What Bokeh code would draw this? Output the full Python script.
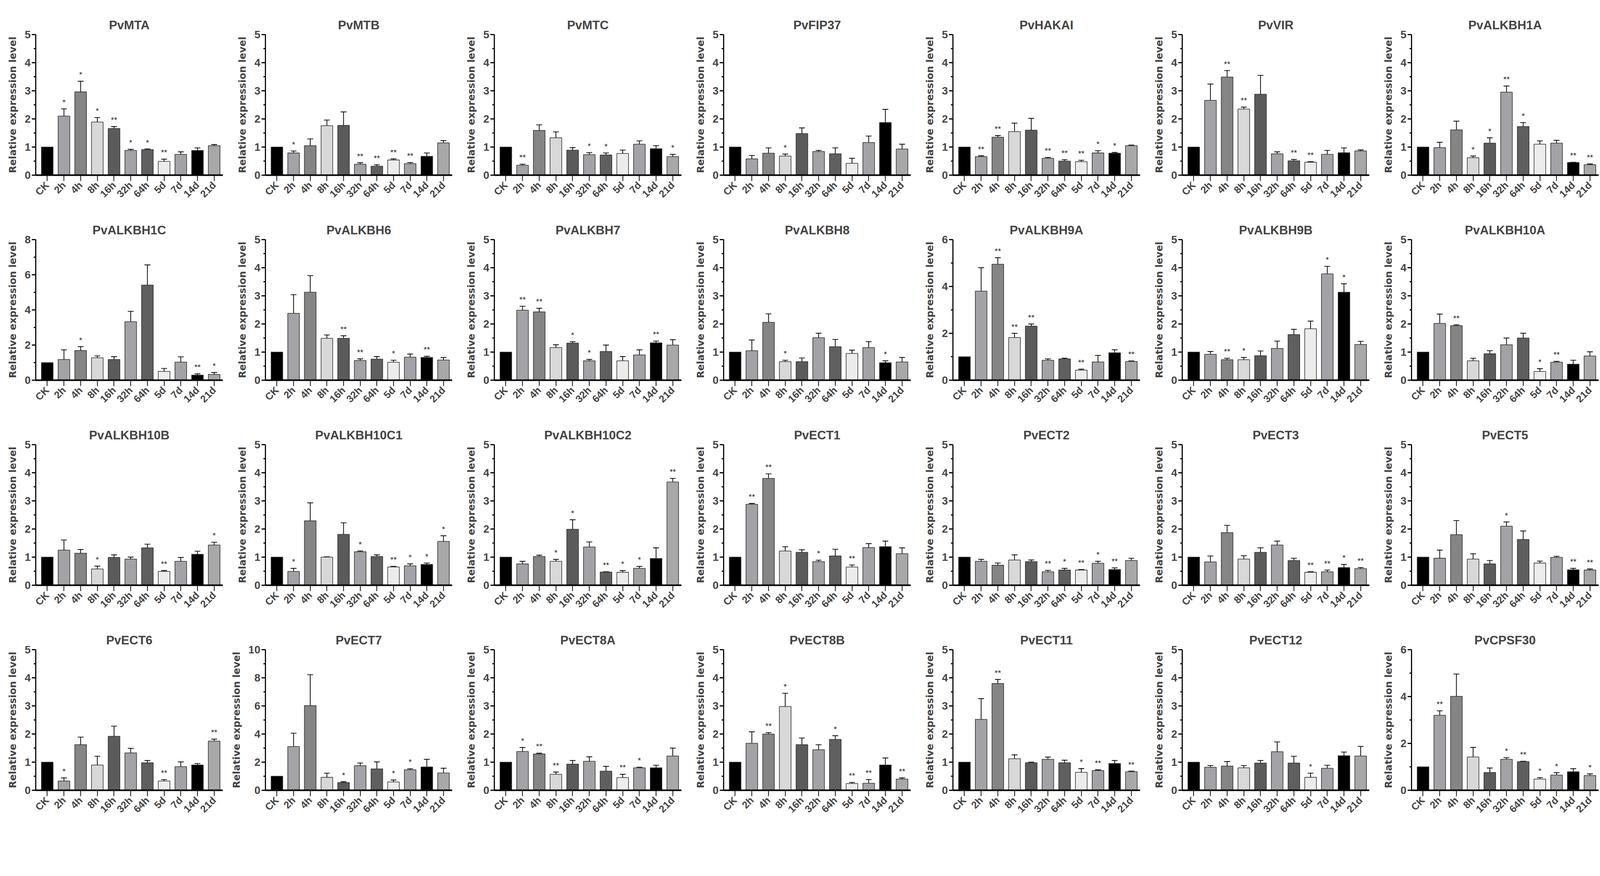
import math
from bokeh.plotting import figure
from bokeh.layouts import gridplot
from bokeh.models import ColumnDataSource, Whisker, TeeHead, FixedTicker, Range1d
from bokeh.core.properties import value
from bokeh.embed import file_html
from bokeh.resources import INLINE

times = ["CK", "2h", "4h", "8h", "16h", "32h", "64h", "5d", "7d", "14d", "21d"]
bar_colors = ["#000000", "#a2a2a7", "#858585", "#d8d8d8", "#5b5b5b", "#a2a2a7",
              "#5f5f5f", "#ececec", "#a2a2a7", "#000000", "#a8a8a8"]

genes = ["PvMTA", "PvMTB", "PvMTC", "PvFIP37", "PvHAKAI", "PvVIR", "PvALKBH1A",
         "PvALKBH1C", "PvALKBH6", "PvALKBH7", "PvALKBH8", "PvALKBH9A", "PvALKBH9B", "PvALKBH10A",
         "PvALKBH10B", "PvALKBH10C1", "PvALKBH10C2", "PvECT1", "PvECT2", "PvECT3", "PvECT5",
         "PvECT6", "PvECT7", "PvECT8A", "PvECT8B", "PvECT11", "PvECT12", "PvCPSF30"]
y_max = [5, 5, 5, 5, 5, 5, 5,
         8, 5, 5, 5, 6, 5, 5,
         5, 5, 5, 5, 5, 5, 5,
         5, 10, 5, 5, 5, 5, 6]

MTA_mean = [1.00, 2.10, 2.96, 1.89, 1.66, 0.88, 0.91, 0.49, 0.74, 0.88, 1.05]
MTA_err = [0, 0.26, 0.38, 0.16, 0.07, 0.04, 0.02, 0.08, 0.09, 0.09, 0.04]
MTA_sig = ["", "*", "*", "*", "**", "*", "*", "**", "", "", ""]

MTB_mean = [1.00, 0.79, 1.05, 1.76, 1.77, 0.39, 0.32, 0.54, 0.41, 0.67, 1.15]
MTB_err = [0, 0.07, 0.24, 0.20, 0.48, 0.05, 0.05, 0.04, 0.04, 0.12, 0.08]
MTB_sig = ["", "*", "", "", "", "**", "**", "**", "**", "", ""]

MTC_mean = [1.00, 0.35, 1.59, 1.33, 0.89, 0.73, 0.72, 0.77, 1.10, 0.94, 0.66]
MTC_err = [0, 0.04, 0.20, 0.21, 0.09, 0.07, 0.07, 0.12, 0.12, 0.11, 0.08]
MTC_sig = ["", "**", "", "", "", "*", "*", "", "", "", "*"]

FIP37_mean = [1.00, 0.58, 0.78, 0.68, 1.48, 0.84, 0.76, 0.42, 1.16, 1.87, 0.93]
FIP37_err = [0, 0.12, 0.19, 0.07, 0.20, 0.04, 0.21, 0.18, 0.23, 0.47, 0.17]
FIP37_sig = ["", "", "", "*", "", "", "", "", "", "", ""]

HAKAI_mean = [1.00, 0.66, 1.35, 1.55, 1.60, 0.60, 0.50, 0.48, 0.79, 0.78, 1.05]
HAKAI_err = [0, 0.03, 0.06, 0.30, 0.42, 0.03, 0.05, 0.05, 0.08, 0.03, 0.02]
HAKAI_sig = ["", "**", "**", "", "", "**", "**", "**", "*", "*", ""]

VIR_mean = [1.00, 2.66, 3.49, 2.35, 2.88, 0.76, 0.51, 0.46, 0.74, 0.80, 0.86]
VIR_err = [0, 0.58, 0.23, 0.07, 0.67, 0.07, 0.05, 0.02, 0.14, 0.17, 0.04]
VIR_sig = ["", "", "**", "**", "", "", "**", "**", "", "", ""]

ALKBH1A_mean = [1.00, 0.98, 1.61, 0.62, 1.14, 2.95, 1.73, 1.10, 1.14, 0.45, 0.37]
ALKBH1A_err = [0, 0.19, 0.31, 0.06, 0.19, 0.22, 0.14, 0.12, 0.10, 0.01, 0.03]
ALKBH1A_sig = ["", "", "", "*", "*", "**", "*", "", "", "**", "**"]

ALKBH1C_mean = [1.00, 1.18, 1.69, 1.27, 1.18, 3.33, 5.41, 0.50, 1.03, 0.29, 0.33]
ALKBH1C_err = [0, 0.55, 0.22, 0.11, 0.16, 0.59, 1.15, 0.17, 0.30, 0.07, 0.11]
ALKBH1C_sig = ["", "", "*", "", "", "", "", "", "", "**", "*"]

ALKBH6_mean = [1.00, 2.38, 3.13, 1.49, 1.49, 0.70, 0.75, 0.64, 0.82, 0.81, 0.72]
ALKBH6_err = [0, 0.66, 0.59, 0.12, 0.09, 0.06, 0.09, 0.07, 0.11, 0.04, 0.09]
ALKBH6_sig = ["", "", "", "", "**", "**", "", "*", "", "**", ""]

ALKBH7_mean = [1.00, 2.49, 2.43, 1.16, 1.32, 0.69, 1.02, 0.69, 0.90, 1.33, 1.25]
ALKBH7_err = [0, 0.14, 0.13, 0.10, 0.05, 0.05, 0.23, 0.15, 0.18, 0.06, 0.19]
ALKBH7_sig = ["", "**", "**", "", "*", "*", "", "", "", "**", ""]

ALKBH8_mean = [1.00, 1.05, 2.06, 0.66, 0.66, 1.51, 1.19, 0.95, 1.16, 0.62, 0.65]
ALKBH8_err = [0, 0.38, 0.30, 0.05, 0.13, 0.16, 0.26, 0.12, 0.21, 0.07, 0.16]
ALKBH8_sig = ["", "", "", "*", "", "", "", "", "", "*", ""]

ALKBH9A_mean = [1.00, 3.80, 4.95, 1.82, 2.31, 0.85, 0.91, 0.43, 0.78, 1.17, 0.80]
ALKBH9A_err = [0, 1.00, 0.28, 0.18, 0.09, 0.06, 0.03, 0.04, 0.28, 0.13, 0.02]
ALKBH9A_sig = ["", "", "**", "**", "**", "", "", "**", "", "", "**"]

ALKBH9B_mean = [1.00, 0.92, 0.73, 0.73, 0.87, 1.13, 1.62, 1.83, 3.78, 3.13, 1.27]
ALKBH9B_err = [0, 0.10, 0.05, 0.08, 0.17, 0.26, 0.19, 0.27, 0.27, 0.30, 0.11]
ALKBH9B_sig = ["", "", "**", "*", "", "", "", "", "*", "*", ""]

ALKBH10A_mean = [1.00, 2.02, 1.94, 0.69, 0.94, 1.26, 1.50, 0.31, 0.64, 0.57, 0.86]
ALKBH10A_err = [0, 0.33, 0.03, 0.09, 0.11, 0.24, 0.17, 0.10, 0.03, 0.14, 0.15]
ALKBH10A_sig = ["", "", "**", "", "", "", "", "*", "**", "", ""]

ALKBH10B_mean = [1.00, 1.25, 1.14, 0.58, 0.99, 0.93, 1.33, 0.49, 0.85, 1.10, 1.43]
ALKBH10B_err = [0, 0.36, 0.13, 0.10, 0.09, 0.07, 0.13, 0.03, 0.14, 0.11, 0.10]
ALKBH10B_sig = ["", "", "", "*", "", "", "", "**", "", "", "*"]

ALKBH10C1_mean = [1.00, 0.49, 2.29, 1.00, 1.81, 1.19, 1.02, 0.65, 0.69, 0.74, 1.56]
ALKBH10C1_err = [0, 0.11, 0.64, 0.01, 0.41, 0.03, 0.06, 0.02, 0.07, 0.05, 0.20]
ALKBH10C1_sig = ["", "*", "", "", "", "*", "", "**", "*", "*", "*"]

ALKBH10C2_mean = [1.00, 0.76, 1.02, 0.85, 1.99, 1.36, 0.47, 0.46, 0.60, 0.95, 3.67]
ALKBH10C2_err = [0, 0.09, 0.05, 0.07, 0.34, 0.18, 0.01, 0.06, 0.07, 0.38, 0.13]
ALKBH10C2_sig = ["", "", "", "*", "*", "", "**", "*", "*", "", "**"]

ECT1_mean = [1.00, 2.88, 3.80, 1.22, 1.17, 0.84, 1.04, 0.65, 1.34, 1.37, 1.12]
ECT1_err = [0, 0.03, 0.16, 0.15, 0.09, 0.05, 0.24, 0.07, 0.14, 0.20, 0.21]
ECT1_sig = ["", "**", "**", "", "", "*", "", "**", "", "", ""]

ECT2_mean = [1.00, 0.85, 0.71, 0.90, 0.84, 0.48, 0.54, 0.54, 0.78, 0.56, 0.88]
ECT2_err = [0, 0.07, 0.08, 0.18, 0.06, 0.05, 0.06, 0.02, 0.07, 0.06, 0.08]
ECT2_sig = ["", "", "", "", "", "**", "*", "**", "*", "**", ""]

ECT3_mean = [1.00, 0.83, 1.87, 0.93, 1.17, 1.43, 0.88, 0.46, 0.48, 0.63, 0.59]
ECT3_err = [0, 0.21, 0.26, 0.12, 0.16, 0.14, 0.08, 0.02, 0.06, 0.11, 0.04]
ECT3_sig = ["", "", "", "", "", "", "", "**", "**", "*", "**"]

ECT5_mean = [1.00, 0.96, 1.80, 0.93, 0.76, 2.10, 1.63, 0.79, 0.99, 0.55, 0.54]
ECT5_err = [0, 0.29, 0.50, 0.19, 0.12, 0.15, 0.30, 0.07, 0.04, 0.05, 0.04]
ECT5_sig = ["", "", "", "", "", "*", "", "", "", "**", "**"]

ECT6_mean = [1.00, 0.33, 1.62, 0.90, 1.92, 1.33, 0.98, 0.33, 0.84, 0.90, 1.75]
ECT6_err = [0, 0.11, 0.27, 0.31, 0.36, 0.16, 0.08, 0.05, 0.17, 0.05, 0.07]
ECT6_sig = ["", "*", "", "", "", "", "", "**", "", "", "**"]

ECT7_mean = [1.00, 3.11, 6.02, 0.92, 0.55, 1.75, 1.52, 0.59, 1.46, 1.66, 1.23]
ECT7_err = [0, 0.95, 2.20, 0.30, 0.06, 0.19, 0.50, 0.14, 0.07, 0.54, 0.34]
ECT7_sig = ["", "", "", "", "*", "", "", "*", "*", "", ""]

ECT8A_mean = [1.00, 1.38, 1.29, 0.57, 0.93, 1.03, 0.68, 0.45, 0.80, 0.80, 1.22]
ECT8A_err = [0, 0.14, 0.03, 0.08, 0.13, 0.16, 0.17, 0.12, 0.02, 0.09, 0.28]
ECT8A_sig = ["", "*", "**", "**", "", "", "", "**", "*", "", ""]

ECT8B_mean = [1.00, 1.67, 2.00, 2.98, 1.62, 1.44, 1.81, 0.24, 0.25, 0.90, 0.40]
ECT8B_err = [0, 0.41, 0.05, 0.47, 0.24, 0.18, 0.13, 0.04, 0.13, 0.25, 0.04]
ECT8B_sig = ["", "", "**", "*", "", "", "*", "**", "**", "", "**"]

ECT11_mean = [1.00, 2.52, 3.80, 1.12, 0.98, 1.10, 0.98, 0.64, 0.70, 0.95, 0.66]
ECT11_err = [0, 0.74, 0.14, 0.14, 0.02, 0.08, 0.09, 0.13, 0.03, 0.11, 0.02]
ECT11_sig = ["", "", "**", "", "", "", "", "*", "**", "", "**"]

ECT12_mean = [1.00, 0.82, 0.86, 0.80, 0.97, 1.37, 0.97, 0.46, 0.78, 1.23, 1.22]
ECT12_err = [0, 0.06, 0.16, 0.08, 0.09, 0.35, 0.24, 0.15, 0.11, 0.13, 0.34]
ECT12_sig = ["", "", "", "", "", "", "", "*", "", "", ""]

CPSF30_mean = [1.00, 3.20, 4.01, 1.42, 0.76, 1.32, 1.22, 0.48, 0.65, 0.79, 0.63]
CPSF30_err = [0, 0.19, 0.95, 0.41, 0.19, 0.07, 0.02, 0.06, 0.10, 0.13, 0.07]
CPSF30_sig = ["", "**", "", "", "", "*", "**", "*", "*", "", "*"]

panel_data = [
    (MTA_mean, MTA_err, MTA_sig), (MTB_mean, MTB_err, MTB_sig), (MTC_mean, MTC_err, MTC_sig),
    (FIP37_mean, FIP37_err, FIP37_sig), (HAKAI_mean, HAKAI_err, HAKAI_sig), (VIR_mean, VIR_err, VIR_sig),
    (ALKBH1A_mean, ALKBH1A_err, ALKBH1A_sig), (ALKBH1C_mean, ALKBH1C_err, ALKBH1C_sig),
    (ALKBH6_mean, ALKBH6_err, ALKBH6_sig), (ALKBH7_mean, ALKBH7_err, ALKBH7_sig),
    (ALKBH8_mean, ALKBH8_err, ALKBH8_sig), (ALKBH9A_mean, ALKBH9A_err, ALKBH9A_sig),
    (ALKBH9B_mean, ALKBH9B_err, ALKBH9B_sig), (ALKBH10A_mean, ALKBH10A_err, ALKBH10A_sig),
    (ALKBH10B_mean, ALKBH10B_err, ALKBH10B_sig), (ALKBH10C1_mean, ALKBH10C1_err, ALKBH10C1_sig),
    (ALKBH10C2_mean, ALKBH10C2_err, ALKBH10C2_sig), (ECT1_mean, ECT1_err, ECT1_sig),
    (ECT2_mean, ECT2_err, ECT2_sig), (ECT3_mean, ECT3_err, ECT3_sig), (ECT5_mean, ECT5_err, ECT5_sig),
    (ECT6_mean, ECT6_err, ECT6_sig), (ECT7_mean, ECT7_err, ECT7_sig), (ECT8A_mean, ECT8A_err, ECT8A_sig),
    (ECT8B_mean, ECT8B_err, ECT8B_sig), (ECT11_mean, ECT11_err, ECT11_sig),
    (ECT12_mean, ECT12_err, ECT12_sig), (CPSF30_mean, CPSF30_err, CPSF30_sig),
]

TICK_FONT = "Liberation Sans"
LABEL_FONT = "DejaVu Sans"
S = 1 / 1.052  # layout scale


def px(v):
    return int(round(v * S))


def fpx(v):
    return "%.1fpx" % (v * S)


def make_panel(name, mean, err, sig, ymax):
    xs = list(range(len(times)))
    p = figure(width=px(617.5), height=px(552),
               min_border_left=px(96), min_border_right=px(18),
               min_border_top=px(93), min_border_bottom=px(81),
               x_range=Range1d(-0.69, 10.52), y_range=Range1d(0, ymax),
               output_backend="svg", toolbar_location=None, tools="")
    p.title.text = name
    p.title.text_font = TICK_FONT
    p.title.text_font_size = fpx(33)
    p.title.text_font_style = "bold"
    p.title.align = "center"
    p.title.standoff = px(15)
    p.outline_line_color = None
    p.xgrid.grid_line_color = None
    p.ygrid.grid_line_color = None
    p.background_fill_color = "white"

    src = ColumnDataSource(dict(x=xs, mean=mean, color=bar_colors))
    p.vbar(x="x", top="mean", width=0.7, bottom=0, fill_color="color",
           line_color="#2e2e2e", line_width=1.6 * S, source=src)

    wx = [x for x, e in zip(xs, err) if e > 0]
    wu = [m + e for m, e in zip(mean, err) if e > 0]
    wl = [m - e for m, e in zip(mean, err) if e > 0]
    wsrc = ColumnDataSource(dict(x=wx, upper=wu, lower=wl))
    w = Whisker(source=wsrc, base="x", upper="upper", lower="lower",
                line_color="black", line_width=2 * S,
                upper_head=TeeHead(size=px(16), line_width=2 * S, line_color="black"),
                lower_head=TeeHead(size=px(16), line_width=2 * S, line_color="black"))
    p.add_layout(w)

    ssrc = ColumnDataSource(dict(x=xs, y=[m + e for m, e in zip(mean, err)], s=sig))
    p.text(x="x", y="y", text="s", source=ssrc, text_align="center", text_baseline="bottom",
           y_offset=-px(6), text_font_size=fpx(22), text_color="#222222",
           text_font=value(TICK_FONT))

    step = 1 if ymax <= 5 else 2
    ticks = list(range(0, ymax + 1, step))
    if step == 1:
        minors = [t + 0.5 for t in range(0, ymax)]
    else:
        minors = list(range(1, ymax, 2))
    p.yaxis.ticker = FixedTicker(ticks=ticks, minor_ticks=minors)
    p.yaxis.axis_label = "Relative expression level"
    p.yaxis.axis_label_text_font = LABEL_FONT
    p.yaxis.axis_label_text_font_size = fpx(26)
    p.yaxis.axis_label_text_font_style = "bold"
    p.yaxis.axis_label_standoff = px(14)
    p.yaxis.major_label_text_font = TICK_FONT
    p.yaxis.major_label_text_font_size = fpx(29)
    p.yaxis.major_label_text_font_style = "bold"
    p.yaxis.major_label_standoff = px(3)
    p.yaxis.axis_line_width = 3 * S
    p.yaxis.major_tick_line_width = 3 * S
    p.yaxis.major_tick_in = 0
    p.yaxis.major_tick_out = px(10)
    p.yaxis.minor_tick_line_width = 3 * S
    p.yaxis.minor_tick_in = 0
    p.yaxis.minor_tick_out = px(5)

    p.xaxis.ticker = FixedTicker(ticks=xs)
    p.xaxis.major_label_overrides = {i: t for i, t in enumerate(times)}
    p.xaxis.major_label_orientation = math.pi / 4
    p.xaxis.major_label_text_font = TICK_FONT
    p.xaxis.major_label_text_font_size = fpx(27)
    p.xaxis.major_label_text_font_style = "bold"
    p.xaxis.major_label_standoff = px(6)
    p.xaxis.axis_line_width = 4 * S
    p.xaxis.major_tick_line_width = 2 * S
    p.xaxis.major_tick_in = 0
    p.xaxis.major_tick_out = px(16)
    p.xaxis.minor_tick_line_color = None
    return p


figs = []
for name, (m, e, s), ym in zip(genes, panel_data, y_max):
    figs.append(make_panel(name, m, e, s, ym))

grid = gridplot(figs, ncols=7, toolbar_location=None)
open("out.html", "w").write(file_html(grid, INLINE))
